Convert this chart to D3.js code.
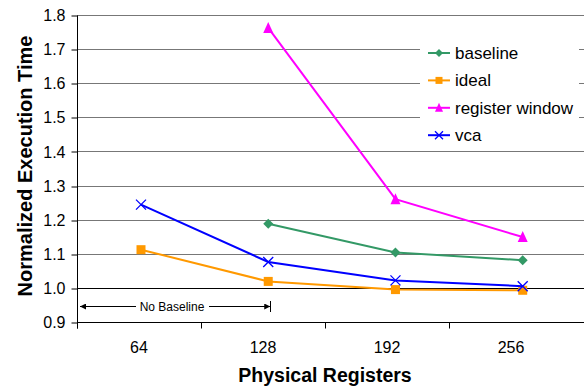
<!DOCTYPE html>
<html>
<head>
<meta charset="utf-8">
<script src="https://cdn.jsdelivr.net/npm/d3@7"></script>
<style>
  body { margin: 0; background: #fff; }
  svg { display: block; font-family: "Liberation Sans", Arial, sans-serif; }
</style>
</head>
<body>
<div class="chart-area"></div>
<script>
const registers = [64, 128, 192, 256];
const baseline = [null, 1.188, 1.104, 1.081];
const ideal = [1.112, 1.019, 0.995, 0.993];
const registerWindow = [null, 1.762, 1.260, 1.149];
const vca = [1.244, 1.076, 1.022, 1.005];
const yTicks = [0.9, 1.0, 1.1, 1.2, 1.3, 1.4, 1.5, 1.6, 1.7, 1.8];

const series = [
  {name: "baseline", values: baseline, color: "#339966", marker: "diamond"},
  {name: "ideal", values: ideal, color: "#ff9900", marker: "square"},
  {name: "register window", values: registerWindow, color: "#ff00ff", marker: "triangle"},
  {name: "vca", values: vca, color: "#0000ff", marker: "cross"}
];

let width = 585, height = 387;
let plotLeft = 77, plotRight = 584, plotTop = 15, plotBottom = 322;

let svg = d3.select("div.chart-area").append("svg")
  .attr("width", width)
  .attr("height", height);

let y = d3.scaleLinear().domain([0.9, 1.8]).range([plotBottom, plotTop]);
// category axis (labels / ticks)
let xBand = d3.scaleBand().domain(registers).range([plotLeft, 573]);
// point positions
let x = d3.scaleLinear().domain([64, 256]).range([141, 522.7]);

// gridlines
svg.append("g").selectAll("line")
  .data(yTicks.filter(d => d > 0.9))
  .enter().append("line")
  .attr("x1", plotLeft).attr("x2", plotRight)
  .attr("y1", d => Math.round(y(d)) + 0.5)
  .attr("y2", d => Math.round(y(d)) + 0.5)
  .attr("stroke", d => d === 1.0 ? "#000" : "#777")
  .attr("stroke-width", 1);

// y axis
let yAxis = svg.append("g")
  .attr("transform", "translate(" + (plotLeft + 0.5) + ",0.5)")
  .call(d3.axisLeft(y).tickValues(yTicks).tickFormat(d3.format(".1f")).tickSize(6).tickPadding(6).tickSizeOuter(0));
yAxis.select(".domain").attr("d", "M0," + Math.round(y(1.8)) + "V" + (plotBottom + 6));
yAxis.selectAll(".tick line").attr("transform", d => "translate(0," + (Math.round(y(d)) - y(d)) + ")");
yAxis.selectAll("text").style("font-size", "16px").style("font-family", "Liberation Sans, Arial, sans-serif").attr("fill", "#000");

// x axis
let xAxis = svg.append("g")
  .attr("transform", "translate(0," + (plotBottom + 0.5) + ")");
xAxis.append("line")
  .attr("x1", plotLeft).attr("x2", plotRight)
  .attr("stroke", "#000");
xAxis.selectAll("line.tick")
  .data(registers)
  .enter().append("line")
  .attr("class", "tick")
  .attr("x1", d => Math.round(xBand(d)) + 0.5)
  .attr("x2", d => Math.round(xBand(d)) + 0.5)
  .attr("y1", 0).attr("y2", 6)
  .attr("stroke", "#000");
xAxis.selectAll("text")
  .data(registers)
  .enter().append("text")
  .attr("x", d => xBand(d) + xBand.bandwidth() / 2)
  .attr("y", 30)
  .attr("text-anchor", "middle")
  .style("font-size", "16px")
  .text(d => d);

// axis titles
svg.append("text")
  .attr("transform", "translate(32,166) rotate(-90)")
  .attr("text-anchor", "middle")
  .style("font-size", "20px")
  .style("font-weight", "bold")
  .text("Normalized Execution Time");

svg.append("text")
  .attr("x", (plotLeft + 573) / 2)
  .attr("y", 382)
  .attr("text-anchor", "middle")
  .style("font-size", "19.5px")
  .style("font-weight", "bold")
  .text("Physical Registers");

// "No Baseline" annotation
let defs = svg.append("defs");
defs.append("marker")
  .attr("id", "arrow")
  .attr("viewBox", "0 0 10 10")
  .attr("refX", 10).attr("refY", 5)
  .attr("markerWidth", 8).attr("markerHeight", 6)
  .attr("markerUnits", "userSpaceOnUse")
  .attr("orient", "auto-start-reverse")
  .append("path").attr("d", "M0,0L10,5L0,10Z").attr("fill", "#000");

let annY = 306.5, annL = plotLeft + 3, annR = x(128) + 2;
svg.append("line")
  .attr("x1", annL).attr("x2", 136)
  .attr("y1", annY).attr("y2", annY)
  .attr("stroke", "#000").attr("stroke-width", 1.2)
  .attr("marker-start", "url(#arrow)");
svg.append("line")
  .attr("x1", 209).attr("x2", annR)
  .attr("y1", annY).attr("y2", annY)
  .attr("stroke", "#000").attr("stroke-width", 1.2)
  .attr("marker-end", "url(#arrow)");
svg.append("line")
  .attr("x1", Math.round(annR) + 0.5).attr("x2", Math.round(annR) + 0.5)
  .attr("y1", annY - 5.5).attr("y2", annY + 5.5)
  .attr("stroke", "#000");
svg.append("text")
  .attr("x", 172).attr("y", annY + 4)
  .attr("text-anchor", "middle")
  .style("font-size", "12px")
  .text("No Baseline");

// marker drawing
function drawMarker(sel, type, color, s) {
  let r = s / 2;
  if (type === "diamond") {
    sel.append("path").attr("d", "M0," + -r + "L" + r + ",0L0," + r + "L" + -r + ",0Z").attr("fill", color);
  } else if (type === "square") {
    sel.append("rect").attr("x", -r + 0.5).attr("y", -r + 0.5).attr("width", s - 1).attr("height", s - 1).attr("fill", color);
  } else if (type === "triangle") {
    sel.append("path").attr("d", "M0," + (-r - 1) + "L" + r + "," + r + "L" + -r + "," + r + "Z").attr("fill", color);
  } else {
    sel.append("path").attr("d", "M" + -r + "," + -r + "L" + r + "," + r + "M" + -r + "," + r + "L" + r + "," + -r)
      .attr("stroke", color).attr("stroke-width", 1.3).attr("fill", "none");
  }
}

let line = d3.line()
  .defined(d => d.v != null)
  .x(d => x(d.r))
  .y(d => y(d.v));

series.forEach(function(s) {
  let pts = registers.map((r, i) => ({r: r, v: s.values[i]}));
  let g = svg.append("g").attr("class", "series");
  g.append("path")
    .datum(pts)
    .attr("d", line)
    .attr("fill", "none")
    .attr("stroke", s.color)
    .attr("stroke-width", 2);
  g.selectAll("g.pt")
    .data(pts.filter(d => d.v != null))
    .enter().append("g")
    .attr("class", "pt")
    .attr("transform", d => "translate(" + x(d.r) + "," + y(d.v) + ")")
    .each(function() { drawMarker(d3.select(this), s.marker, s.color, 10); });
});

// legend
let legend = svg.append("g");
legend.append("rect")
  .attr("x", 420).attr("y", 25)
  .attr("width", 159).attr("height", 122)
  .attr("fill", "#fff");
let item = legend.selectAll("g.item")
  .data(series)
  .enter().append("g")
  .attr("class", "item")
  .attr("transform", (d, i) => "translate(439," + (53 + i * 27.4) + ")");
item.append("line")
  .attr("x1", -11).attr("x2", 11)
  .attr("stroke", d => d.color)
  .attr("stroke-width", 2);
item.each(function(d) { drawMarker(d3.select(this), d.marker, d.color, 8); });
item.append("text")
  .attr("x", 16).attr("y", 6)
  .style("font-size", "17px")
  .text(d => d.name);
</script>
</body>
</html>
